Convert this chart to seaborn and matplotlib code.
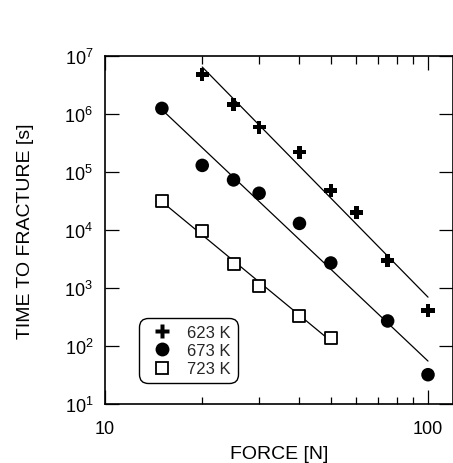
import numpy as np
import pandas as pd
import matplotlib
matplotlib.use("Agg")
import matplotlib.pyplot as plt
import matplotlib.ticker as mticker
from matplotlib.lines import Line2D
import seaborn as sns

# ---- data ----
force_623 = [20, 25, 30, 40, 50, 60, 75, 100]
time_623 = [4.8e6, 1.45e6, 5.9e5, 2.2e5, 4.8e4, 2.0e4, 3.0e3, 4.1e2]
force_673 = [15, 20, 25, 30, 40, 50, 75, 100]
time_673 = [1.25e6, 1.3e5, 7.3e4, 4.3e4, 1.3e4, 2.7e3, 2.7e2, 32]
force_723 = [15, 20, 25, 30, 40, 50]
time_723 = [3.2e4, 9.5e3, 2.6e3, 1.07e3, 3.3e2, 1.4e2]
labels = ["623 K", "673 K", "723 K"]
x_ticks = [10, 100]
x_tick_labels = ["10", "100"]
y_ticks = [1e1, 1e2, 1e3, 1e4, 1e5, 1e6, 1e7]

sns.set_theme(style="ticks")
plt.rcParams.update({
    "font.family": ["Liberation Sans", "DejaVu Sans"],
    "mathtext.fontset": "custom",
    "mathtext.rm": "Liberation Sans",
    "mathtext.it": "Liberation Sans:italic",
    "mathtext.bf": "Liberation Sans:bold",
    "mathtext.default": "regular",
    "axes.edgecolor": "black",
    "axes.linewidth": 1.2,
})

fig = plt.figure(figsize=(4.53, 4.64), dpi=100)
ax = fig.add_axes([105 / 453, 59 / 464, 348 / 453, 348 / 464])

series = [
    (force_623, time_623, "P", dict(color="black", edgecolor="none", s=90)),
    (force_673, time_673, "o", dict(color="black", edgecolor="none", s=95)),
    (force_723, time_723, "s", dict(facecolor="white", edgecolor="black", linewidth=1.3, s=64)),
]

for (f, t, m, kw), lab in zip(series, labels):
    lf, lt = np.log10(f), np.log10(t)
    slope, icpt = np.polyfit(lf, lt, 1)
    xs = np.array([min(f), max(f)], dtype=float)
    fit = pd.DataFrame({"x": xs, "y": 10 ** (icpt + slope * np.log10(xs))})
    sns.lineplot(data=fit, x="x", y="y", ax=ax, color="black", linewidth=0.9, zorder=2)
    df = pd.DataFrame({"x": f, "y": t})
    sns.scatterplot(data=df, x="x", y="y", ax=ax, marker=m, zorder=3, **kw)

ax.set_xscale("log")
ax.set_yscale("log")
ax.set_xlim(10, 119.5)
ax.set_ylim(10, 1e7)

ax.xaxis.set_major_locator(mticker.FixedLocator(x_ticks))
ax.xaxis.set_major_formatter(mticker.FixedFormatter(x_tick_labels))
ax.xaxis.set_minor_locator(mticker.FixedLocator([v * 10 for v in range(2, 10)]))
ax.xaxis.set_minor_formatter(mticker.NullFormatter())
ax.yaxis.set_major_locator(mticker.FixedLocator(y_ticks))
ax.yaxis.set_major_formatter(mticker.LogFormatterSciNotation())
ax.yaxis.set_minor_locator(mticker.NullLocator())

ax.tick_params(which="both", direction="in", top=True, right=True,
               color="black", width=0.9)
ax.tick_params(which="major", length=10, labelsize=13, labelcolor="black")
ax.tick_params(which="minor", length=5.4)
ax.tick_params(axis="x", which="major", pad=11.5)
ax.tick_params(axis="y", which="major", pad=8.5)

ax.set_xlabel("FORCE [N]", fontsize=14, color="black", labelpad=5.5)
ax.set_ylabel("TIME TO FRACTURE [s]", fontsize=14, color="black", labelpad=22)

handles = [
    Line2D([], [], linestyle="", marker="P", markersize=9.5, color="black", markeredgecolor="none"),
    Line2D([], [], linestyle="", marker="o", markersize=10, color="black", markeredgecolor="none"),
    Line2D([], [], linestyle="", marker="s", markersize=8.5, markerfacecolor="white",
           markeredgecolor="black", markeredgewidth=1.3),
]
leg = ax.legend(handles, labels, loc="lower left", bbox_to_anchor=(0.098, 0.06),
                borderaxespad=0, fontsize=12, frameon=True, fancybox=True,
                handlelength=2.0, handletextpad=0.5, labelspacing=0.2, borderpad=0.4)
frame = leg.get_frame()
frame.set_edgecolor("black")
frame.set_linewidth(1.0)
frame.set_alpha(1)
frame.set_boxstyle("round,pad=0,rounding_size=0.55")

fig.savefig("out.png", dpi=100)
